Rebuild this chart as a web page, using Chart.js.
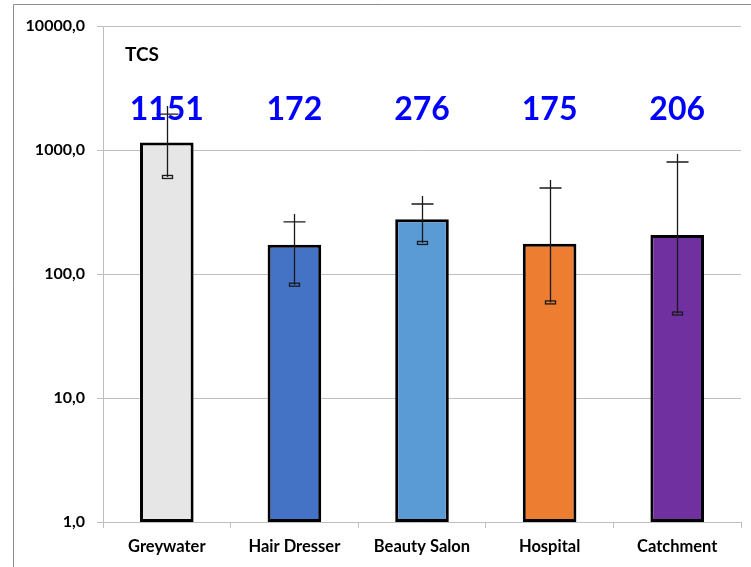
<!DOCTYPE html>
<html>
<head>
<meta charset="utf-8">
<script src="https://cdn.jsdelivr.net/npm/chart.js@4.4.1/dist/chart.umd.min.js"></script>
<style>
  html, body { margin: 0; padding: 0; background: #fff; }
  #wrap { width: 751px; height: 567px; }
</style>
</head>
<body>
<div id="wrap"><canvas id="mainChart" width="751" height="567"></canvas></div>
<script>
const categories = ['Greywater', 'Hair Dresser', 'Beauty Salon', 'Hospital', 'Catchment'];
const values = [1151, 172, 276, 175, 206];
const errHigh = [1950, 263, 367, 494, 800];
const errLow = [606, 82, 178, 59, 48];
const barColors = ['#E7E6E6', '#4472C4', '#5B9BD5', '#ED7D31', '#7030A0'];
const yTicks = [1, 10, 100, 1000, 10000];
const title = 'TCS';

const FONT = 'Lato, "Open Sans", sans-serif';

// frame + title + value labels
const decorPlugin = {
    id: 'decor',
    beforeDraw(c) {
        const ctx = c.ctx;
        ctx.save();
        ctx.strokeStyle = '#8c8c8c';
        ctx.lineWidth = 1;
        ctx.beginPath();
        ctx.moveTo(13.5, 567);
        ctx.lineTo(13.5, 4.5);
        ctx.lineTo(751, 4.5);
        ctx.stroke();
        ctx.restore();
    },
    afterDraw(c) {
        const ctx = c.ctx;
        const area = c.chartArea;
        ctx.save();
        ctx.fillStyle = '#000';
        ctx.font = 'bold 19px ' + FONT;
        ctx.textBaseline = 'alphabetic';
        ctx.textAlign = 'left';
        ctx.fillText(title, area.left + 22, 61);

        ctx.fillStyle = '#0000FF';
        ctx.font = 'bold 32px ' + FONT;
        ctx.textAlign = 'center';
        const meta = c.getDatasetMeta(0);
        meta.data.forEach((bar, i) => {
            ctx.fillText(String(values[i]), bar.x, 120);
        });
        ctx.restore();
    }
};

// error bars: whisker with cap on top and small box at the bottom
const errorBarPlugin = {
    id: 'errorBars',
    afterDatasetsDraw(c) {
        const ctx = c.ctx;
        const y = c.scales.y;
        const meta = c.getDatasetMeta(0);
        ctx.save();
        ctx.strokeStyle = '#1a1a1a';
        ctx.lineWidth = 1.3;
        meta.data.forEach((bar, i) => {
            const x = Math.round(bar.x) + 0.5;
            const yHi = y.getPixelForValue(errHigh[i]);
            const yLo = y.getPixelForValue(errLow[i]);
            ctx.beginPath();
            ctx.moveTo(x, yLo);
            ctx.lineTo(x, yHi - 8);
            ctx.moveTo(x - 11, yHi);
            ctx.lineTo(x + 11, yHi);
            ctx.stroke();
            ctx.strokeRect(x - 5, yLo - 1.5, 10, 3);
        });
        ctx.restore();
    }
};

const ctx = document.getElementById('mainChart').getContext('2d');
const chart = new Chart(ctx, {
    type: 'bar',
    data: {
        labels: categories,
        datasets: [{
            data: values,
            backgroundColor: barColors,
            borderColor: '#000',
            borderWidth: 3,
            borderSkipped: false,
            categoryPercentage: 1,
            barPercentage: 0.42
        }]
    },
    options: {
        responsive: false,
        animation: false,
        layout: { padding: { left: 0, right: 10, top: 26, bottom: 0 } },
        plugins: {
            legend: { display: false },
            tooltip: { enabled: false }
        },
        scales: {
            x: {
                grid: {
                    display: true,
                    drawOnChartArea: false,
                    drawTicks: true,
                    tickLength: 6,
                    color: '#BFBFBF',
                    offset: true
                },
                border: { color: '#BFBFBF' },
                ticks: {
                    color: '#000',
                    padding: 9,
                    font: { family: FONT, size: 16.5, weight: 'bold' }
                },
                afterFit(s) { s.height = 45; }
            },
            y: {
                type: 'logarithmic',
                min: 1,
                max: 10000,
                grid: { color: '#BFBFBF', tickLength: 6 },
                border: { color: '#BFBFBF' },
                afterBuildTicks(s) {
                    s.ticks = yTicks.map(v => ({ value: v, major: true }));
                },
                ticks: {
                    color: '#000',
                    padding: 12,
                    font: { family: FONT, size: 16, weight: 'bold' },
                    callback: v => v.toFixed(1).replace('.', ',')
                },
                afterFit(s) { s.width = 103; }
            }
        }
    },
    plugins: [decorPlugin, errorBarPlugin]
});
</script>
</body>
</html>
